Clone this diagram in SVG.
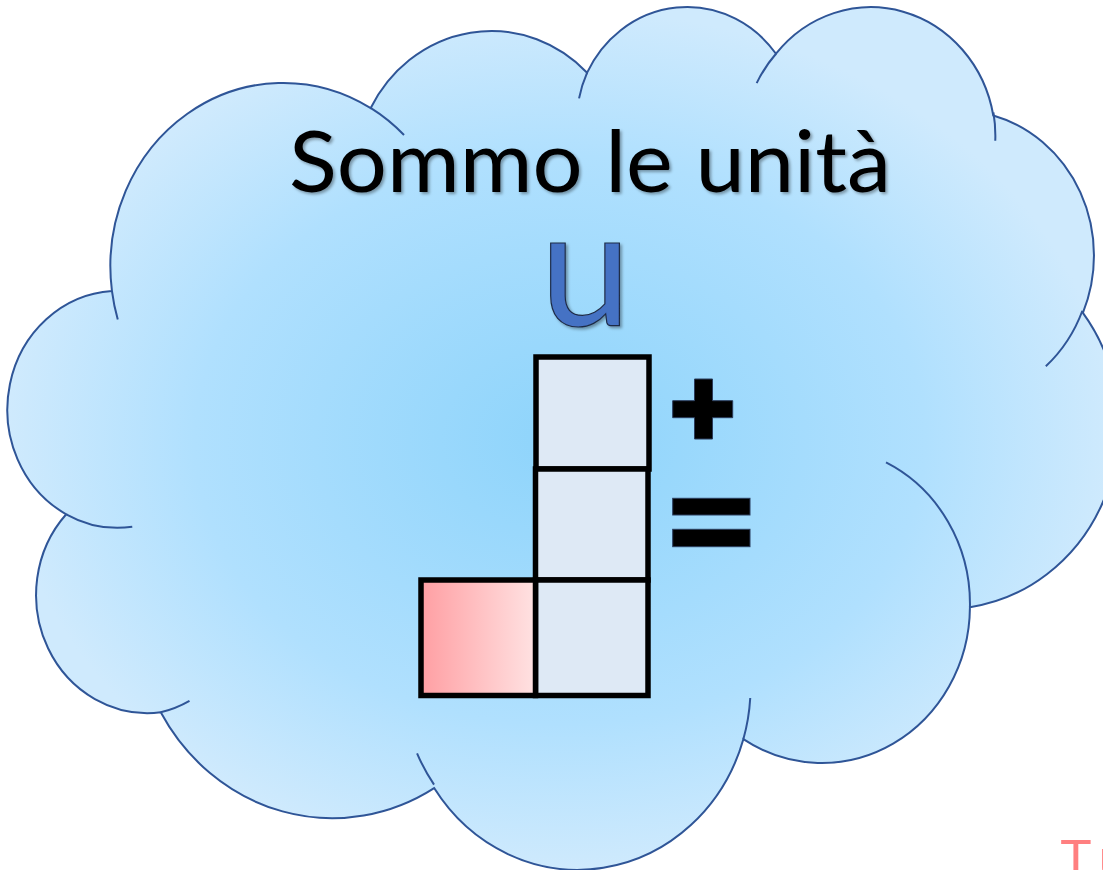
<svg xmlns="http://www.w3.org/2000/svg" width="1103" height="870" viewBox="0 0 1103 870">
  <defs>
    <radialGradient id="cloudFill" gradientUnits="userSpaceOnUse" cx="21397" cy="21829" r="21600">
      <stop offset="0" stop-color="#8ed4fb"/>
      <stop offset="0.66" stop-color="#b0e0fe"/>
      <stop offset="1" stop-color="#cfeafd"/>
    </radialGradient>
    <linearGradient id="redFill" x1="0" y1="0" x2="1" y2="0">
      <stop offset="0" stop-color="#ff9fa3"/>
      <stop offset="1" stop-color="#ffe2e2"/>
    </linearGradient>
    <filter id="shadow" x="-10%" y="-10%" width="130%" height="130%">
      <feDropShadow dx="2" dy="2" stdDeviation="1.5" flood-color="#000" flood-opacity="0.35"/>
    </filter>
    <style>
      .cloud-line { fill: none; stroke: #2f5597; stroke-width: 2; vector-effect: non-scaling-stroke; }
      .box { stroke: #000; stroke-width: 5.5; }
      .blue-box { fill: #dee9f5; }
      .sign { fill: #000; stroke: #2a3c5c; stroke-width: 1; }
    </style>
  </defs>

  <g id="cloud" transform="translate(12.1,4.2) scale(0.025606,0.019964)">
    <path fill="url(#cloudFill)" stroke="#2f5597" stroke-width="2" vector-effect="non-scaling-stroke"
      d="M 3900 14370
         A 6753 9190 0 0 1 14005 5202
         A 5333 7267 0 0 1 22456 3431
         A 4365 5945 0 0 1 29833 2481
         A 4857 6595 0 0 1 38319 5574
         A 5333 7273 0 0 1 41819 15458
         A 6775 9220 0 0 1 37407 30204
         A 5785 7867 0 0 1 28558 36814
         A 6752 9215 0 0 1 16482 39265
         A 7720 10543 0 0 1 5805 35470
         A 4360 5918 0 0 1 2113 25549
         A 4345 5945 0 0 1 3900 14370 Z"/>
    <path class="cloud-line"
      d="M 4693 26177 A 4345 5945 0 0 1 2113 25549
         M 6928 34899 A 4360 5918 0 0 1 5805 35470
         M 16478 39090 A 6752 9215 0 0 1 15815 37527
         M 28827 34751 A 6752 9215 0 0 1 28558 36814
         M 34129 22954 A 5785 7867 0 0 1 37407 30204
         M 41798 15354 A 5333 7273 0 0 1 40370 18136
         M 38324 5426 A 4857 6595 0 0 1 38396 6839
         M 29078 3952 A 4857 6595 0 0 1 29833 2481
         M 22141 4720 A 4365 5945 0 0 1 22456 3431
         M 14000 5192 A 6753 9190 0 0 1 15306 6552
         M 4127 15789 A 6753 9190 0 0 1 3900 14370"/>
  </g>

  <g id="title">
    <text x="289" y="192" font-family="Lato, 'Open Sans', sans-serif" font-size="85" fill="#000" textLength="602" lengthAdjust="spacingAndGlyphs" filter="url(#shadow)">Sommo le unità</text>
  </g>

  <g id="unit-label">
    <text x="585.5" y="326" text-anchor="middle" font-family="Lato, 'Open Sans', sans-serif" font-size="163" fill="#4472c4" stroke="#1e2a44" stroke-width="1.2" filter="url(#shadow)">u</text>
  </g>

  <g id="box-top">
    <rect class="box blue-box" x="536" y="357" width="113" height="112"/>
  </g>
  <g id="box-middle">
    <rect class="box blue-box" x="535.5" y="469" width="112.5" height="111"/>
  </g>
  <g id="box-bottom">
    <rect class="box blue-box" x="535.5" y="580" width="112.5" height="115.5"/>
  </g>
  <g id="box-red">
    <rect class="box" fill="url(#redFill)" x="421" y="580" width="114.5" height="115.5"/>
  </g>

  <g id="plus">
    <polygon class="sign" points="694.5,379 712.5,379 712.5,400.7 732.7,400.7 732.7,417.7 712.5,417.7 712.5,439 694.5,439 694.5,417.7 672.7,417.7 672.7,400.7 694.5,400.7"/>
  </g>

  <g id="equals">
    <rect class="sign" x="672.7" y="498.3" width="77.3" height="16.7"/>
    <rect class="sign" x="672.7" y="529.3" width="77.3" height="17.4"/>
  </g>

  <g id="corner-text">
    <text x="1060" y="876" font-family="'Liberation Sans', sans-serif" font-size="52" fill="#ff7f80" letter-spacing="9">Tu</text>
  </g>
</svg>
